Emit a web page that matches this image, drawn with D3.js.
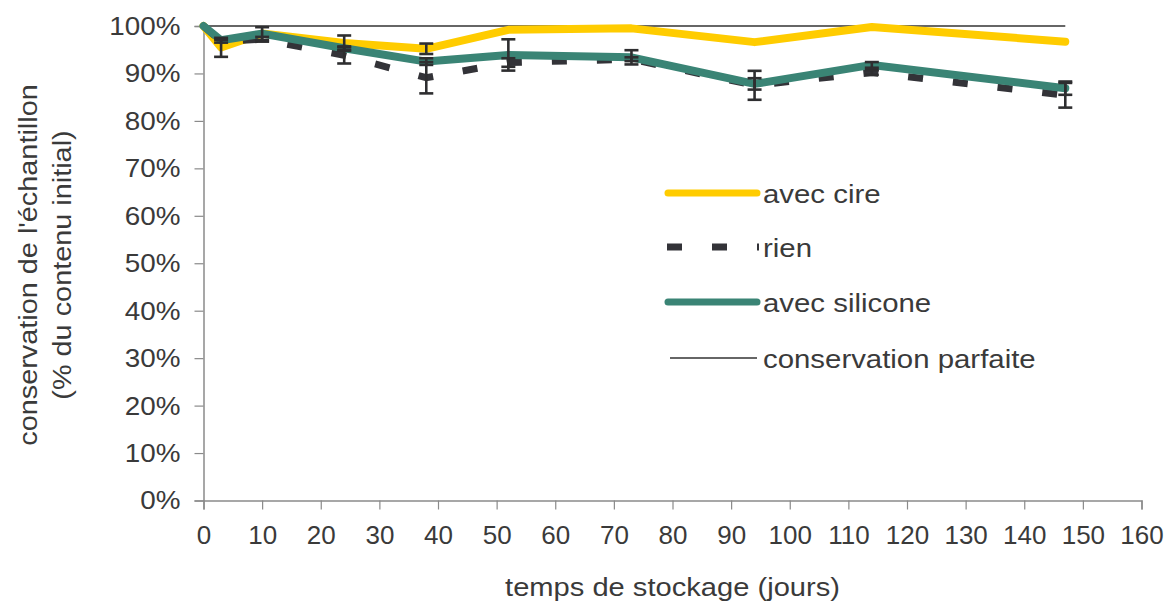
<!DOCTYPE html>
<html><head><meta charset="utf-8">
<script src="https://cdn.jsdelivr.net/npm/d3@7"></script>
<style>
html,body{margin:0;padding:0;background:#fff;}
svg{display:block;font-family:"Liberation Sans",Arial,sans-serif;}
</style></head>
<body>
<svg id="chart" width="1169" height="605"></svg>
<script>
// ---- data ----
const days = [0, 3, 10, 24, 38, 52, 73, 94, 114, 147];
const cire = [100, 95.5, 98.4, 96.4, 95.2, 99.2, 99.5, 96.6, 99.8, 96.7];
const cireErr = [0, 2.0, 0, 1.6, 1.1, 0, 0, 0, 0, 0];
const rien = [100, 96.8, 97.2, 93.8, 89.1, 92.3, 93.0, 87.5, 90.2, 85.4];
const rienErr = [0, 0.3, 0.5, 1.7, 3.3, 0.9, 0.4, 3.05, 0.5, 2.6];
const silicone = [100, 97.0, 98.4, 95.3, 92.5, 93.9, 93.4, 87.8, 91.8, 86.9];
const siliconeErr = [0, 0, 1.35, 0.4, 0.7, 3.3, 1.5, 1.2, 0.6, 1.4];
const parfaiteDays = [0, 147];
const parfaite = [100, 100];
const xTicks = [0,10,20,30,40,50,60,70,80,90,100,110,120,130,140,150,160];
const yTicks = [0,10,20,30,40,50,60,70,80,90,100];
const seriesNames = ["avec cire", "rien", "avec silicone", "conservation parfaite"];

// ---- layout ----
const svg = d3.select("#chart");
const x = d3.scaleLinear().domain([0,160]).range([203.5,1141.5]);
const y = d3.scaleLinear().domain([0,100]).range([500.5,26]);
const txt = "#3a3a3a";
const axisCol = "#8a8a8a";

// axes
const xa = svg.append("g").attr("transform","translate(0,500.5)")
  .call(d3.axisBottom(x).tickValues(xTicks).tickSize(9).tickPadding(10).tickFormat(d3.format("d")));
const ya = svg.append("g").attr("transform","translate(203.5,0)")
  .call(d3.axisLeft(y).tickValues(yTicks).tickSize(9).tickPadding(14).tickFormat(d=>d+"%"));
[xa,ya].forEach(g=>{
  g.select(".domain").attr("stroke",axisCol).attr("stroke-width",1.5);
  g.selectAll(".tick line").attr("stroke",axisCol).attr("stroke-width",1.2);
  g.selectAll(".tick text").attr("fill",txt).attr("font-size",26);
});
xa.selectAll(".tick text").attr("dy","0.95em");
ya.selectAll(".tick text").attr("font-size",26.5).attr("transform","scale(1.05,1)")
  .attr("x",-23/1.05);

// stretched text helper
function sText(px, py, str, sx, anchor, rot){
  const g = svg.append("g").attr("transform",`translate(${px},${py})${rot?` rotate(${rot})`:""} scale(${sx},1)`);
  g.append("text").attr("x",0).attr("y",0).attr("text-anchor",anchor)
    .attr("font-size",26).attr("fill",txt).text(str);
  return g;
}

// axis titles
sText(672.5, 596, "temps de stockage (jours)", 1.12, "middle");
svg.append("g").attr("transform","translate(37,265) rotate(-90) scale(1.11,1)")
  .append("text").attr("text-anchor","middle").attr("font-size",26).attr("fill",txt)
  .text("conservation de l'échantillon");
svg.append("g").attr("transform","translate(71,265) rotate(-90) scale(1.11,1)")
  .append("text").attr("text-anchor","middle").attr("font-size",26).attr("fill",txt)
  .text("(% du contenu initial)");

// lines
const line = d3.line().x(d=>x(d[0])).y(d=>y(d[1]));
const zip = (a,b)=>a.map((v,i)=>[v,b[i]]);
const colCire = "#ffcc00", colRien = "#333338", colSil = "#3a8475", colPar = "#333333";

svg.append("path").attr("d",line(zip(parfaiteDays,parfaite))).attr("fill","none")
  .attr("stroke",colPar).attr("stroke-width",1.5);
svg.append("path").attr("d",line(zip(days,cire))).attr("fill","none")
  .attr("stroke",colCire).attr("stroke-width",8).attr("stroke-linecap","round").attr("stroke-linejoin","round");
svg.append("path").attr("d",line(zip(days,rien))).attr("fill","none")
  .attr("stroke",colRien).attr("stroke-width",7).attr("stroke-dasharray","15,30");
svg.append("path").attr("d",line(zip(days,silicone))).attr("fill","none")
  .attr("stroke",colSil).attr("stroke-width",8).attr("stroke-linecap","round").attr("stroke-linejoin","round");

// error bars
const eb = svg.append("g").attr("stroke","#2e2e30").attr("stroke-width",2.6);
function errBars(vals, errs){
  days.forEach((d,i)=>{
    if(!errs[i]) return;
    const cx = x(d), y1 = y(vals[i]+errs[i]), y2 = y(vals[i]-errs[i]);
    eb.append("line").attr("x1",cx).attr("x2",cx).attr("y1",y1).attr("y2",y2);
    eb.append("line").attr("x1",cx-7).attr("x2",cx+7).attr("y1",y1).attr("y2",y1);
    eb.append("line").attr("x1",cx-7).attr("x2",cx+7).attr("y1",y2).attr("y2",y2);
  });
}
errBars(cire,cireErr);
errBars(rien,rienErr);
errBars(silicone,siliconeErr);

// legend
const legY = [193,247,302,358];
const styles = [
  {c:colCire,w:7,cap:"round",dash:null},
  {c:colRien,w:7,cap:"butt",dash:"15,30"},
  {c:colSil,w:7,cap:"round",dash:null},
  {c:colPar,w:1.5,cap:"butt",dash:null}
];
seriesNames.forEach((n,i)=>{
  const s = styles[i];
  const l = svg.append("line").attr("x1",i===3?670:668).attr("x2",757).attr("y1",legY[i]).attr("y2",legY[i])
    .attr("stroke",s.c).attr("stroke-width",s.w).attr("stroke-linecap",s.cap);
  if(s.dash) l.attr("x1",667).attr("x2",759).attr("stroke-dasharray",s.dash);
  sText(763, legY[i]+10, n, 1.13, "start");
});
</script>
</body></html>
